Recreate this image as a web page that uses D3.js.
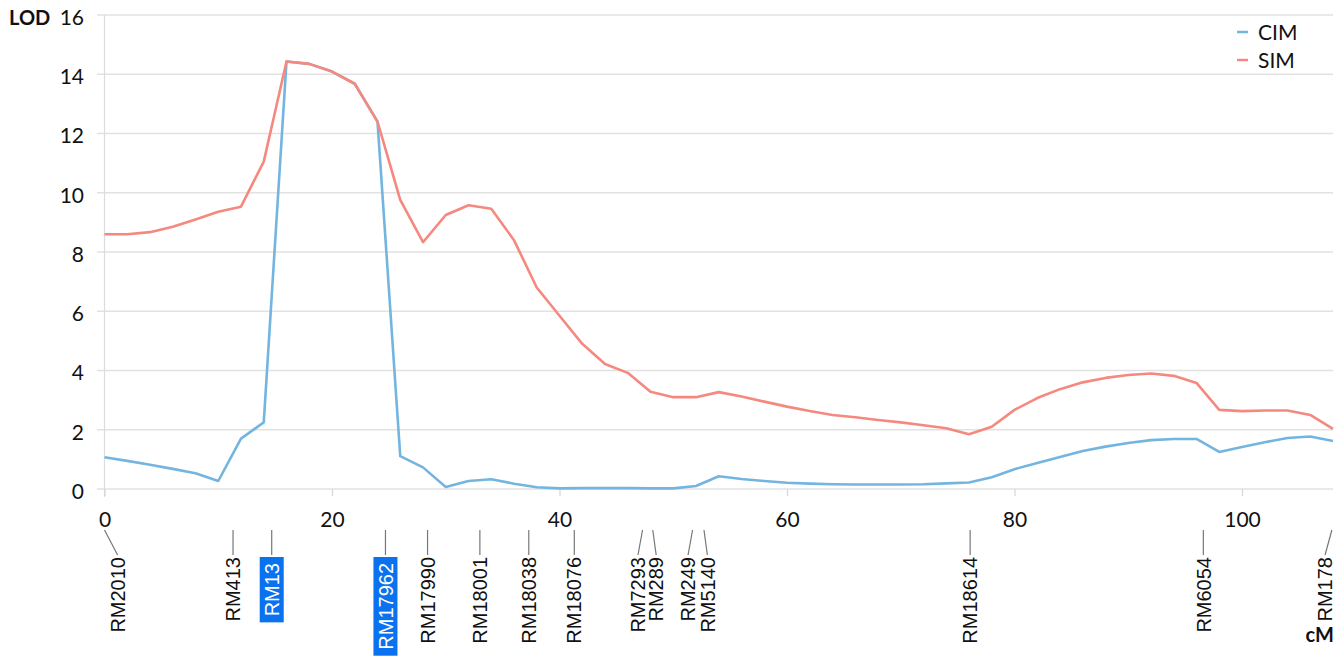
<!DOCTYPE html>
<html><head><meta charset="utf-8">
<script src="https://cdn.jsdelivr.net/npm/d3@7"></script>
<style>html,body{margin:0;padding:0;background:#fff;}svg{display:block;}</style>
</head><body>
<svg id="chart" width="1340" height="657"></svg>
<script>
// ---- data ----
const positionsCM = [0,2,4,6,8,10,12,14,16,18,20,22,24,26,28,30,32,34,36,38,40,42,44,46,48,50,52,54,56,58,60,62,64,66,68,70,72,74,76,78,80,82,84,86,88,90,92,94,96,98,100,102,104,106,108];
const cimLOD = [1.07,0.95,0.82,0.68,0.53,0.27,1.7,2.25,14.43,14.35,14.09,13.68,12.4,1.11,0.73,0.07,0.27,0.33,0.18,0.06,0.02,0.03,0.03,0.03,0.02,0.02,0.1,0.43,0.34,0.27,0.21,0.18,0.16,0.15,0.15,0.15,0.16,0.19,0.22,0.4,0.67,0.88,1.08,1.28,1.43,1.55,1.65,1.69,1.69,1.25,1.42,1.58,1.72,1.77,1.62];
const simLOD = [8.6,8.6,8.67,8.85,9.1,9.36,9.53,11.05,14.43,14.35,14.09,13.68,12.4,9.76,8.33,9.25,9.58,9.46,8.4,6.8,5.85,4.9,4.22,3.92,3.28,3.1,3.1,3.27,3.12,2.95,2.78,2.63,2.5,2.42,2.33,2.25,2.15,2.05,1.85,2.1,2.67,3.07,3.37,3.6,3.75,3.85,3.9,3.82,3.58,2.67,2.63,2.65,2.65,2.5,2.03];
const seriesNames = ["CIM","SIM"];
const markerNames = ["RM2010","RM413","RM13","RM17962","RM17990","RM18001","RM18038","RM18076","RM7293","RM289","RM249","RM5140","RM18614","RM6054","RM178"];
const markerCM    = [0,11.3,14.7,24.7,28.4,33.0,37.3,41.3,47.3,48.2,51.7,52.7,76.1,96.6,107.9];
const markerLabelCM = [1.15,11.3,14.7,24.7,28.4,33.0,37.3,41.3,46.9,48.5,51.3,53.0,76.1,96.6,107.3];
const highlighted = ["RM13","RM17962"];
const yTicks = [0,2,4,6,8,10,12,14,16];
const xTicks = [0,20,40,60,80,100];

// ---- layout ----
const svg = d3.select("#chart");
const colors = {CIM:"#74b5e0", SIM:"#f5887f"};
const x = d3.scaleLinear().domain([0,108]).range([104.5,1333]);
const y = d3.scaleLinear().domain([0,16]).range([489,15]);
const axisFont = "Lato, 'Open Sans', sans-serif";
const markFont = "'Liberation Sans', Arial, sans-serif";

// gridlines
svg.append("g").selectAll("line").data(yTicks).join("line")
  .attr("x1",97).attr("x2",1333).attr("y1",d=>y(d)).attr("y2",d=>y(d))
  .attr("stroke","#e2e2e2").attr("stroke-width",1.5);
// y axis line
svg.append("line").attr("x1",x(0)).attr("x2",x(0)).attr("y1",y(16)).attr("y2",497)
  .attr("stroke","#dcdcdc").attr("stroke-width",1.2);

// y tick labels via axis
const yAxis = svg.append("g").attr("transform","translate(84,0)")
  .call(d3.axisLeft(y).tickValues(yTicks).tickSize(0).tickPadding(0));
yAxis.select(".domain").remove();
yAxis.selectAll("text").attr("font-family",axisFont).attr("font-size",21).attr("fill","#111").attr("dy","0.45em");

// x axis
const xAxis = svg.append("g").attr("transform",`translate(0,${y(0)})`)
  .call(d3.axisBottom(x).tickValues(xTicks).tickSize(7).tickPadding(16).tickFormat(d3.format("d")));
xAxis.select(".domain").remove();
xAxis.selectAll("line").attr("stroke","#d6d6d6").attr("stroke-width",1.2);
xAxis.selectAll("text").attr("font-family",axisFont).attr("font-size",21).attr("fill","#111");

// axis titles
svg.append("text").attr("x",9).attr("y",25).text("LOD")
  .attr("font-family",axisFont).attr("font-weight","bold").attr("font-size",20).attr("fill","#111");
svg.append("text").attr("x",1334).attr("y",642).attr("text-anchor","end").text("cM")
  .attr("font-family",axisFont).attr("font-weight","bold").attr("font-size",20).attr("fill","#111");

// lines
const line = d3.line().x((d,i)=>x(positionsCM[i])).y(d=>y(d));
svg.append("path").datum(cimLOD).attr("d",line).attr("fill","none")
  .attr("stroke",colors.CIM).attr("stroke-width",2.6).attr("stroke-linejoin","round");
svg.append("path").datum(simLOD).attr("d",line).attr("fill","none")
  .attr("stroke",colors.SIM).attr("stroke-width",2.6).attr("stroke-linejoin","round");

// legend
const leg = svg.append("g");
seriesNames.forEach((s,i)=>{
  const ly = 32 + i*28;
  leg.append("line").attr("x1",1237).attr("x2",1248).attr("y1",ly).attr("y2",ly)
    .attr("stroke",colors[s]).attr("stroke-width",2.5);
  leg.append("text").attr("x",1258).attr("y",ly).attr("dy","0.36em").text(s)
    .attr("font-family",axisFont).attr("font-size",21).attr("fill","#111");
});

// markers
const mg = svg.append("g");
markerNames.forEach((m,i)=>{
  const x0 = x(markerCM[i]), x1 = x(markerLabelCM[i]);
  const hl = highlighted.includes(m);
  mg.append("line").attr("x1",x0).attr("y1",530).attr("x2",x1).attr("y2",555)
    .attr("stroke","#777").attr("stroke-width",1.2);
  const top = hl ? 563 : 557;
  const t = mg.append("text").attr("transform",`translate(${x1},${top}) rotate(-90)`)
    .attr("text-anchor","end").attr("dy","0.36em").text(m)
    .attr("font-family",markFont).attr("font-size",20).attr("fill", hl ? "#fff" : "#111");
  if (hl) {
    const w = t.node().getComputedTextLength();
    mg.insert("rect", () => t.node())
      .attr("x",x1-12).attr("y",top-6).attr("width",24).attr("height",w+12)
      .attr("fill","#0a72ef");
  }
});
</script>
</body></html>
